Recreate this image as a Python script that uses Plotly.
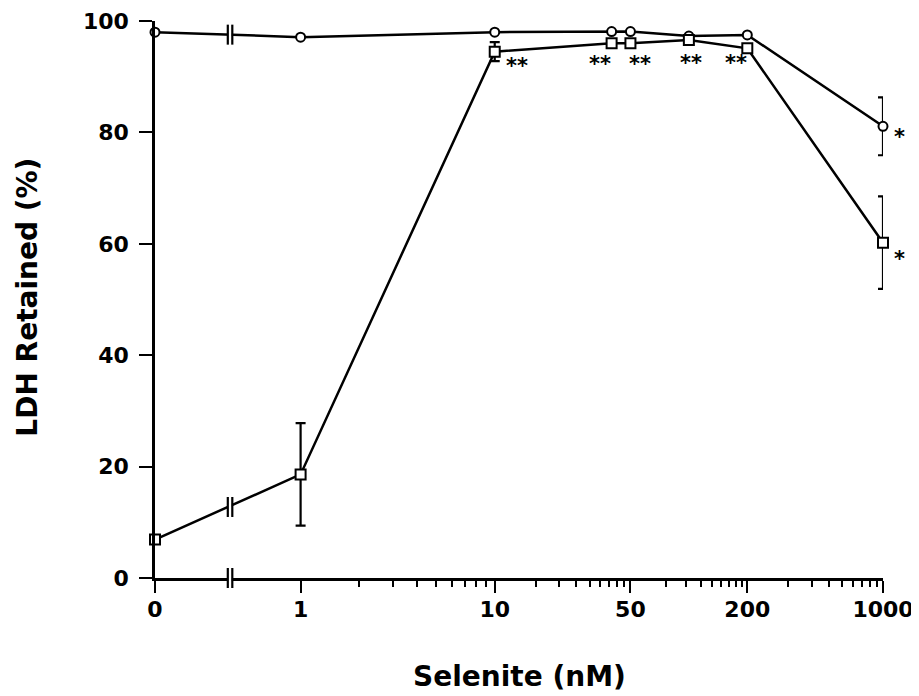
import numpy as np
import plotly.graph_objects as go

# ---------------- data ----------------
conc = [0, 1, 10, 40, 50, 100, 200, 1000]            # selenite, nM
ctrl = [98.0, 97.1, 98.0, 98.1, 98.1, 97.3, 97.5, 81.1]   # circles
ctrl_err = [0, 0, 0, 0, 0, 0, 0, 5.2]
treat = [6.9, 18.6, 94.5, 96.0, 96.0, 96.6, 95.1, 60.2]   # squares
treat_err = [0, 9.2, 1.7, 0, 0, 0, 0, 8.3]
sig_ctrl = ["", "", "", "", "", "", "", "*"]
sig_treat = ["", "", "**", "**", "**", "**", "**", "*"]

xtick_vals = [0, 1, 10, 50, 200, 1000]
xtick_text = ["0", "1", "10", "50", "200", "1000"]
ytick_vals = [0, 20, 40, 60, 80, 100]

# ---------------- axis layout (broken log axis) ----------------
ZERO_LOG = -0.75          # where "0" sits on the log axis
BREAK_LOG = -0.375        # axis break position
ZERO_POS = 10 ** ZERO_LOG
BREAK_POS = 10 ** BREAK_LOG


def xpos(v):
    return ZERO_POS if v == 0 else v


xs = [xpos(v) for v in conc]

# minor ticks: each labelled segment is subdivided like a log decade
minor_vals = []
for a, b in zip(xtick_vals[1:-1], xtick_vals[2:]):
    for k in range(2, 10):
        minor_vals.append(a * (b / a) ** np.log10(k))

FONT = "DejaVu Sans"
BLACK = "black"
LW = 2.5

fig = go.Figure()


def add_errors(y, err):
    idx = [i for i, e in enumerate(err) if e > 0]
    fig.add_trace(go.Scatter(
        x=[xs[i] for i in idx], y=[y[i] for i in idx], mode="markers",
        marker=dict(size=1, color="rgba(0,0,0,0)"),
        error_y=dict(type="data", array=[err[i] for i in idx], visible=True,
                     thickness=2.2, width=5, color=BLACK),
        cliponaxis=False, showlegend=False, hoverinfo="skip"))


add_errors(ctrl, ctrl_err)
add_errors(treat, treat_err)

fig.add_trace(go.Scatter(
    x=xs, y=ctrl, mode="lines+markers", name="Control",
    line=dict(color=BLACK, width=LW),
    marker=dict(symbol="circle", size=9, color="white",
                line=dict(color=BLACK, width=2)),
    cliponaxis=False, showlegend=False))
fig.add_trace(go.Scatter(
    x=xs, y=treat, mode="lines+markers", name="Treated",
    line=dict(color=BLACK, width=LW),
    marker=dict(symbol="square", size=10, color="white",
                line=dict(color=BLACK, width=2)),
    cliponaxis=False, showlegend=False))

# ---------------- axis-break marks ----------------


def break_y(y):
    f = (BREAK_LOG - ZERO_LOG) / (0 - ZERO_LOG)
    return y[0] + (y[1] - y[0]) * f


shapes = []


def add_break(yref, yanchor=None):
    common = dict(xref="x", xsizemode="pixel", xanchor=BREAK_POS, layer="above")
    if yref == "paper":
        gap = dict(yref="paper", ysizemode="scaled", y0=-0.008, y1=0.008)
        mark = dict(yref="paper", ysizemode="scaled", y0=-0.018, y1=0.018)
    else:
        gap = dict(yref="y", ysizemode="pixel", yanchor=yanchor, y0=-4, y1=4)
        mark = dict(yref="y", ysizemode="pixel", yanchor=yanchor, y0=-10, y1=10)
    shapes.append(dict(type="rect", x0=-4, x1=4, fillcolor="white",
                       line=dict(width=0), **common, **gap))
    for dx in (-4.5, 4.5):
        shapes.append(dict(type="line", x0=dx, x1=dx,
                           line=dict(color=BLACK, width=2.2), **common, **mark))


add_break("y", break_y(ctrl))
add_break("y", break_y(treat))
add_break("paper")

# ---------------- significance stars ----------------
star_off_treat = [(0, 0), (0, 0), (22, 13), (-12, 20), (10, 20), (2, 22), (-11, 14), (16, 15)]
star_off_ctrl = [(0, 0)] * 7 + [(16, 10)]
annotations = []
for sig, y, offs in [(sig_ctrl, ctrl, star_off_ctrl), (sig_treat, treat, star_off_treat)]:
    for i, s in enumerate(sig):
        if not s:
            continue
        dx, dy = offs[i]
        annotations.append(dict(
            x=np.log10(xs[i]), y=y[i], xref="x", yref="y", text=s,
            showarrow=False, xshift=dx, yshift=-dy - 1,
            font=dict(family=FONT, size=21, color=BLACK, weight="bold")))

# ---------------- axis titles ----------------
annotations.append(dict(
    x=0.5, y=-0.1774, xref="paper", yref="paper", text="Selenite (nM)",
    showarrow=False, xanchor="center", yanchor="middle",
    font=dict(family=FONT, size=28, color=BLACK, weight="bold")))
annotations.append(dict(
    x=-0.1745, y=0.505, xref="paper", yref="paper", text="LDH Retained (%)",
    showarrow=False, textangle=-90, xanchor="center", yanchor="middle",
    font=dict(family=FONT, size=28, color=BLACK, weight="bold")))

# the page body adds an 8 px margin, so the figure is sized/offset for it
fig.update_layout(
    width=911, height=688,
    margin=dict(l=147, r=36, t=13, b=118, autoexpand=False),
    plot_bgcolor="white", paper_bgcolor="white",
    font=dict(family=FONT, size=22, color=BLACK, weight="bold"),
    shapes=shapes, annotations=annotations,
    xaxis=dict(
        type="log", range=[ZERO_LOG, 3], automargin=False,
        tickmode="array", tickvals=[xpos(v) for v in xtick_vals], ticktext=xtick_text,
        ticks="outside", ticklen=12, tickwidth=2, tickcolor=BLACK,
        minor=dict(tickmode="array", tickvals=minor_vals, ticks="outside",
                   ticklen=6, tickwidth=2, tickcolor=BLACK, showgrid=False),
        showline=True, linecolor=BLACK, linewidth=2.5,
        showgrid=False, zeroline=False, ticklabelstandoff=-2,
        tickfont=dict(family=FONT, size=22, color=BLACK, weight="bold")),
    yaxis=dict(
        range=[0, 100], tickmode="array", tickvals=ytick_vals, automargin=False,
        ticks="outside", ticklen=13, tickwidth=2, tickcolor=BLACK,
        showline=True, linecolor=BLACK, linewidth=2.5,
        showgrid=False, zeroline=False, ticklabelstandoff=6,
        tickfont=dict(family=FONT, size=22, color=BLACK, weight="bold")),
)

fig.write_html("out.html")
